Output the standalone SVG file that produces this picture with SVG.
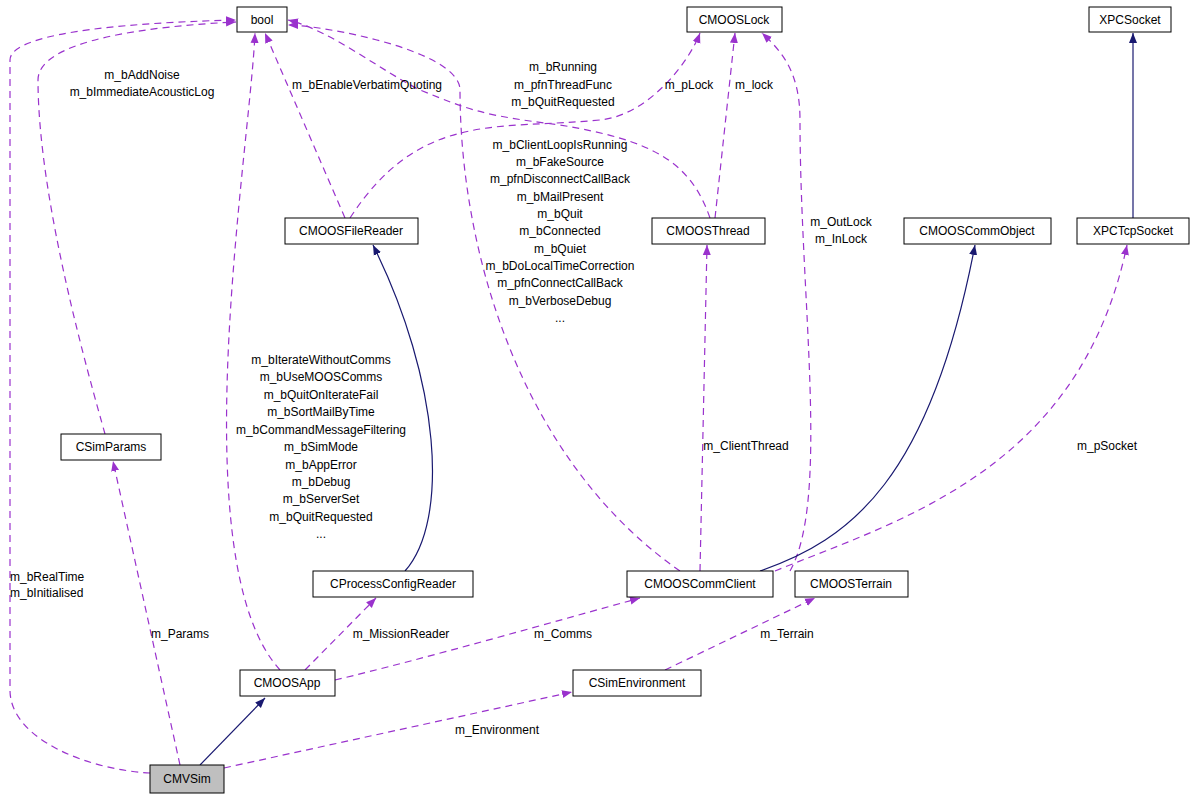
<svg xmlns="http://www.w3.org/2000/svg" width="1197" height="800" viewBox="0 0 1197 800">
<style>
.n rect{fill:#fff;stroke:#000;stroke-width:1}
text{font-family:"Liberation Sans",Arial,sans-serif;font-size:12px;fill:#000}
.n text{text-anchor:middle}
.l{text-anchor:middle}
.d{fill:none;stroke:#9a32cd;stroke-dasharray:7,5;stroke-width:1.2;marker-end:url(#p)}
.s{fill:none;stroke:#191970;stroke-width:1.2;marker-end:url(#b)}
</style>
<defs>
<marker id="p" viewBox="0 0 10 10" refX="10" refY="5" markerWidth="10" markerHeight="10" markerUnits="userSpaceOnUse" orient="auto"><path d="M0,1L10,5L0,9z" fill="#9a32cd"/></marker>
<marker id="b" viewBox="0 0 10 10" refX="10" refY="5" markerWidth="10" markerHeight="10" markerUnits="userSpaceOnUse" orient="auto"><path d="M0,1L10,5L0,9z" fill="#191970"/></marker>
</defs>
<rect width="1197" height="800" fill="#fff"/>
<g id="connectors">
<path class="s" d="M200,765L265,698"/>
<path class="d" d="M150,773C90,770 10,740 10,690L10,60C10,30 150,22 236,20"/>
<path class="d" d="M180,765L113,461"/>
<path class="d" d="M224,768L572,692"/>
<path class="d" d="M105,434C90,380 38,200 38,80C38,40 150,26 236,22"/>
<path class="d" d="M280,670C180,560 250,150 255,33"/>
<path class="d" d="M305,670L376,598"/>
<path class="d" d="M335,680C420,660 560,620 640,598"/>
<path class="s" d="M405,571C450,520 440,380 373,245"/>
<path class="d" d="M345,218L265,33"/>
<path class="d" d="M350,218C420,110 500,130 600,120C650,115 690,60 700,33"/>
<path class="d" d="M710,218C690,160 650,140 560,125C480,115 470,110 420,90C380,70 330,30 288,20"/>
<path class="d" d="M715,218L735,33"/>
<path class="d" d="M680,571C520,460 460,250 460,90C460,50 320,25 288,25"/>
<path class="d" d="M700,571L707,245"/>
<path class="d" d="M790,571C830,500 800,300 800,120C800,70 780,50 762,33"/>
<path class="s" d="M760,571C850,540 930,480 975,245"/>
<path class="d" d="M775,571C900,520 1080,470 1127,245"/>
<path class="s" d="M1133,218L1133,33"/>
<path class="d" d="M665,670L815,598"/>
</g>
<g class="n" id="bool"><rect x="237" y="7" width="50" height="25"/><text x="262" y="24">bool</text></g>
<g class="n" id="CMOOSLock"><rect x="687" y="7" width="95" height="25"/><text x="734" y="24">CMOOSLock</text></g>
<g class="n" id="XPCSocket"><rect x="1089" y="7" width="82" height="25"/><text x="1130" y="24">XPCSocket</text></g>
<g class="n" id="CMOOSFileReader"><rect x="285" y="218" width="133" height="26"/><text x="351" y="235">CMOOSFileReader</text></g>
<g class="n" id="CMOOSThread"><rect x="652" y="218" width="113" height="26"/><text x="708" y="235">CMOOSThread</text></g>
<g class="n" id="CMOOSCommObject"><rect x="904" y="218" width="147" height="26"/><text x="977" y="235">CMOOSCommObject</text></g>
<g class="n" id="XPCTcpSocket"><rect x="1077" y="218" width="112" height="26"/><text x="1133" y="235">XPCTcpSocket</text></g>
<g class="n" id="CSimParams"><rect x="61" y="434" width="100" height="26"/><text x="111" y="451">CSimParams</text></g>
<g class="n" id="CProcessConfigReader"><rect x="313" y="571" width="160" height="26"/><text x="393" y="588">CProcessConfigReader</text></g>
<g class="n" id="CMOOSCommClient"><rect x="627" y="571" width="146" height="26"/><text x="700" y="588">CMOOSCommClient</text></g>
<g class="n" id="CMOOSTerrain"><rect x="795" y="571" width="113" height="26"/><text x="851" y="588">CMOOSTerrain</text></g>
<g class="n" id="CMOOSApp"><rect x="240" y="670" width="95" height="26"/><text x="287" y="687">CMOOSApp</text></g>
<g class="n" id="CSimEnvironment"><rect x="573" y="670" width="128" height="26"/><text x="637" y="687">CSimEnvironment</text></g>
<g class="n" id="CMVSim"><rect x="150" y="765" width="74" height="28" style="fill:#bfbfbf"/><text x="187" y="783">CMVSim</text></g>
<g id="labels">
<text x="10" y="581">m_bRealTime</text><text x="10" y="597">m_bInitialised</text>
<text x="180" y="638" class="l">m_Params</text>
<text x="497" y="734" class="l">m_Environment</text>
<text x="142" y="79" class="l">m_bAddNoise</text><text x="142" y="96" class="l">m_bImmediateAcousticLog</text>
<g class="l"><text x="321" y="364" class="l">m_bIterateWithoutComms</text><text x="321" y="381" class="l">m_bUseMOOSComms</text><text x="321" y="399" class="l">m_bQuitOnIterateFail</text><text x="321" y="416" class="l">m_bSortMailByTime</text><text x="321" y="434" class="l">m_bCommandMessageFiltering</text><text x="321" y="451" class="l">m_bSimMode</text><text x="321" y="469" class="l">m_bAppError</text><text x="321" y="486" class="l">m_bDebug</text><text x="321" y="503" class="l">m_bServerSet</text><text x="321" y="521" class="l">m_bQuitRequested</text><text x="321" y="538" class="l">...</text></g>
<text x="401" y="638" class="l">m_MissionReader</text>
<text x="563" y="638" class="l">m_Comms</text>
<text x="367" y="89" class="l">m_bEnableVerbatimQuoting</text>
<text x="689" y="89" class="l">m_pLock</text>
<text x="563" y="71" class="l">m_bRunning</text><text x="563" y="89" class="l">m_pfnThreadFunc</text><text x="563" y="106" class="l">m_bQuitRequested</text>
<text x="754" y="89" class="l">m_lock</text>
<text x="560" y="149" class="l">m_bClientLoopIsRunning</text><text x="560" y="166" class="l">m_bFakeSource</text><text x="560" y="183" class="l">m_pfnDisconnectCallBack</text><text x="560" y="201" class="l">m_bMailPresent</text><text x="560" y="218" class="l">m_bQuit</text><text x="560" y="235" class="l">m_bConnected</text><text x="560" y="253" class="l">m_bQuiet</text><text x="560" y="270" class="l">m_bDoLocalTimeCorrection</text><text x="560" y="287" class="l">m_pfnConnectCallBack</text><text x="560" y="305" class="l">m_bVerboseDebug</text><text x="560" y="322" class="l">...</text>
<text x="746" y="450" class="l">m_ClientThread</text>
<text x="841" y="226" class="l">m_OutLock</text><text x="841" y="243" class="l">m_InLock</text>
<text x="1107" y="450" class="l">m_pSocket</text>
<text x="787" y="638" class="l">m_Terrain</text>
</g>
</svg>
